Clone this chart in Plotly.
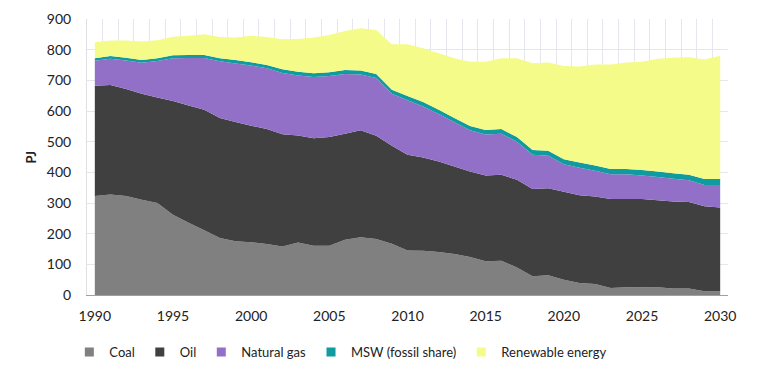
import plotly.graph_objects as go

years = list(range(1990, 2031))

coal = [323, 328, 323, 311, 300, 262, 236, 211, 186, 175,
        172, 166, 158, 171, 161, 161, 180, 188, 183, 167,
        145, 144, 140, 134, 124, 110, 112, 90, 61, 64,
        50, 39, 36, 23, 25, 25, 25, 21, 21, 12, 12]

oil = [359, 357, 349, 345, 344, 371, 382, 393, 391, 389,
       380, 375, 366, 349, 350, 354, 346, 349, 336, 320,
       312, 304, 295, 285, 279, 280, 280, 286, 285, 284,
       287, 286, 285, 290, 288, 288, 284, 284, 282, 277, 273]

natural_gas = [82, 85, 93, 101, 119, 139, 155, 169, 185, 191,
               196, 198, 200, 196, 200, 199, 195, 182, 189, 169,
               178, 167, 155, 144, 134, 133, 134, 124, 111, 106,
               89, 90, 84, 81, 81, 77, 76, 74, 71, 70, 74]

msw = [8, 9, 9, 9, 9, 10, 10, 10, 10, 11,
       11, 11, 12, 12, 12, 12, 13, 13, 13, 13,
       14, 14, 14, 14, 14, 15, 15, 15, 16, 16,
       17, 17, 17, 17, 17, 18, 18, 18, 18, 19, 19]

renewable = [52, 51, 56, 61, 59, 60, 62, 67, 69, 74,
             86, 91, 98, 107, 117, 122, 127, 138, 143, 149,
             169, 176, 184, 195, 210, 223, 231, 257, 283, 288,
             304, 313, 330, 341, 347, 353, 367, 377, 383, 390, 402]

series = [
    ("Coal", coal, "#808080"),
    ("Oil", oil, "#404040"),
    ("Natural gas", natural_gas, "#9370c8"),
    ("MSW (fossil share)", msw, "#109ba0"),
    ("Renewable energy", renewable, "#f4fb88"),
]

fig = go.Figure()
for name, vals, color in series:
    fig.add_trace(go.Scatter(
        x=years, y=vals, name=name, mode="none",
        stackgroup="one", fillcolor=color,
        line=dict(width=0, color=color),
        legendgroup=name, showlegend=False,
    ))
# legend entries with small square swatches
for name, vals, color in series:
    fig.add_trace(go.Scatter(
        x=[None], y=[None], name=name, mode="markers",
        marker=dict(symbol="square", size=9, color=color),
        legendgroup=name, showlegend=True,
    ))

font_family = "Lato, Open Sans, sans-serif"

fig.update_layout(
    width=759, height=387,
    margin=dict(l=79, r=39, t=11, b=100, autoexpand=False),
    paper_bgcolor="white", plot_bgcolor="white",
    font=dict(family=font_family, size=14, color="#222222"),
    showlegend=True,
    legend=dict(orientation="h", traceorder="normal",
                x=0.396, xanchor="center", xref="paper",
                y=0.111, yanchor="middle", yref="container",
                font=dict(size=13, color="#222222"),
                itemwidth=30, tracegroupgap=0),
    xaxis=dict(
        range=[1989.5, 2030.5], automargin=False,
        tickmode="linear", tick0=1990, dtick=5,
        showgrid=False,
        ticks="outside", ticklen=8, tickcolor="rgba(0,0,0,0)",
        showline=True, linecolor="#a0a0a0", linewidth=1,
        zeroline=False,
        minor=dict(tick0=1989.5, dtick=1, showgrid=True,
                   gridcolor="#e6e6ee", gridwidth=1, ticks=""),
    ),
    yaxis=dict(
        range=[0, 900], automargin=False,
        tickmode="linear", tick0=0, dtick=100,
        showgrid=True, gridcolor="#e6e6ee", gridwidth=1,
        ticks="outside", ticklen=12, tickcolor="rgba(0,0,0,0)",
        showline=True, linecolor="#e0e0e0", linewidth=1,
        zeroline=False,
    ),
    annotations=[dict(
        text="<b>PJ</b>", textangle=-90, showarrow=False,
        xref="paper", yref="paper", x=-0.088, y=0.5,
        xanchor="center", yanchor="middle",
        font=dict(size=13, color="#222222"),
    )],
)

fig.write_html("out.html")
